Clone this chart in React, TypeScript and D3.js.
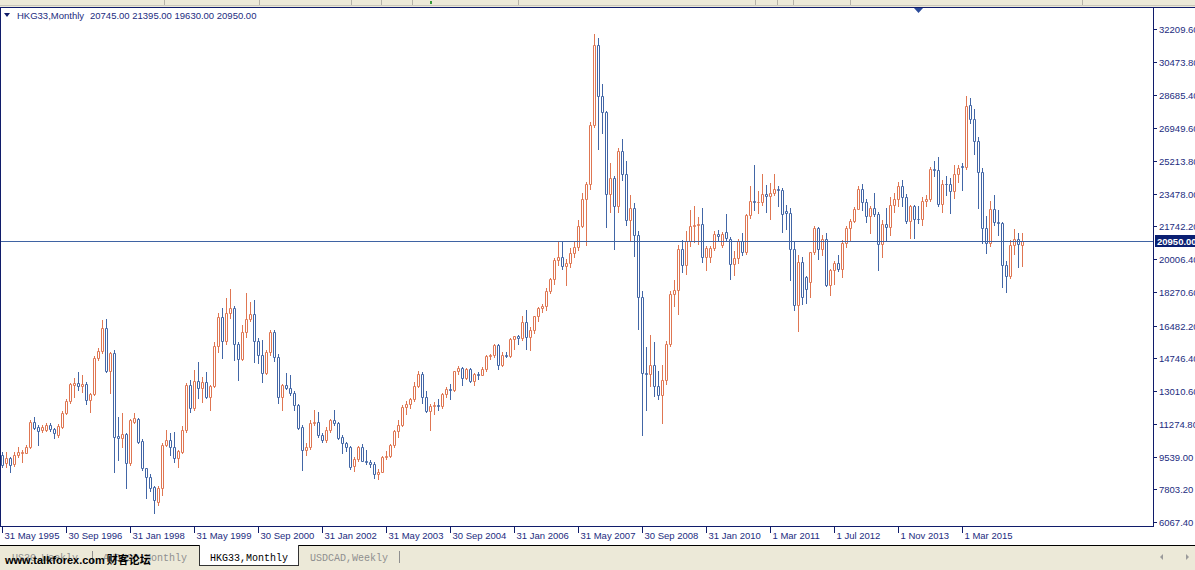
import React from 'react';
import * as d3 from 'd3';

// [open, high, low, close] per monthly bar, grouped by calendar year of the bar
const bars1995 = [
  [9620, 9800, 9000, 9090], [9180, 9800, 9000, 9440], [9440, 9530, 8730, 9090], [9140, 9800, 9050, 9620],
  [9620, 10060, 9530, 9800], [9740, 9880, 9230, 9800], [9740, 10150, 9700, 10060],
];
const bars1996 = [
  [10060, 11500, 10000, 11390], [11350, 11620, 11000, 11070], [11120, 11200, 10150, 10910], [10940, 11200, 10850, 11120],
  [10940, 11300, 10880, 11210], [11210, 11300, 10900, 10980], [10980, 11050, 10500, 10770], [10680, 11250, 10600, 11160],
  [11120, 11950, 11050, 11860], [11860, 12600, 11800, 12480], [12480, 13450, 12400, 13370], [13330, 13680, 12710, 13450],
];
const bars1997 = [
  [13420, 14040, 13070, 13300], [13300, 13860, 12980, 13370], [13370, 13510, 12300, 12540], [12540, 12900, 11920, 12840],
  [12840, 14850, 12800, 14750], [14750, 15300, 14650, 15150], [15150, 16780, 15050, 16340], [16340, 16810, 14000, 14090],
  [14090, 15100, 12890, 15010], [15010, 15190, 8730, 10590], [10630, 11650, 9350, 10500], [10500, 11830, 10060, 10730],
];
const bars1998 = [
  [10730, 10800, 7850, 9210], [9210, 11550, 9100, 11470], [11390, 11860, 11300, 11560], [11530, 11600, 10250, 10330],
  [10360, 10450, 8850, 8910], [8910, 8950, 7320, 8470], [8470, 8600, 7700, 7850], [7900, 7950, 6520, 7230],
  [7140, 7950, 6970, 7850], [7850, 10250, 7500, 10150], [10150, 10950, 10100, 10410], [10410, 10770, 9620, 10060],
];
const bars1999 = [
  [10060, 10850, 9260, 9440], [9440, 9900, 9000, 9850], [9800, 11160, 9750, 10940], [10940, 13420, 10850, 13330],
  [13330, 13600, 11920, 12090], [12090, 14130, 12000, 13560], [13560, 14570, 12620, 13150], [13150, 13770, 12450, 13510],
  [13510, 14040, 12620, 12710], [12710, 13350, 12000, 13280], [13280, 15630, 13200, 15400], [15380, 17130, 15100, 16950],
];
const bars2000 = [
  [16950, 17400, 14750, 15650], [15650, 17930, 15500, 17170], [17170, 18400, 16900, 17400], [17400, 17500, 14650, 15520],
  [15520, 15600, 13600, 14710], [14700, 16510, 14640, 16160], [16160, 18190, 15900, 16810], [16810, 17750, 16700, 17100],
  [17100, 17840, 14570, 15680], [15680, 15800, 14500, 14920], [14920, 15700, 13500, 13950], [13950, 15200, 13900, 15060],
];
const bars2001 = [
  [15060, 16250, 14900, 16130], [16130, 16250, 14600, 14800], [14800, 14950, 12360, 12720], [12720, 13400, 12000, 13330],
  [13330, 13950, 13100, 13150], [13150, 13860, 12800, 12890], [12890, 13000, 12000, 12270], [12270, 12300, 11000, 11030],
  [11120, 11200, 8820, 9880], [9880, 10240, 9600, 10060], [10060, 11470, 9950, 11300], [11300, 12000, 11200, 11390],
];
const bars2002 = [
  [11390, 11920, 10600, 10680], [10680, 10800, 10300, 10410], [10410, 11100, 10300, 10940], [10940, 11550, 10850, 11470],
  [11470, 12000, 11200, 11300], [11300, 11350, 10450, 10500], [10590, 10700, 9700, 10240], [10240, 10300, 9850, 10060],
  [10060, 10100, 8900, 9000], [9050, 9500, 8770, 9400], [9400, 10100, 9300, 10050], [10050, 10200, 9300, 9320],
];
const bars2003 = [
  [9320, 9900, 9150, 9260], [9260, 9380, 9000, 9120], [9120, 9250, 8400, 8630], [8630, 8900, 8330, 8720],
  [8720, 9550, 8700, 9490], [9490, 9850, 9400, 9580], [9580, 10200, 9500, 10130], [10130, 10950, 10050, 10910],
  [10910, 11500, 10600, 11230], [11230, 12250, 11150, 12190], [12190, 12500, 11800, 12320], [12320, 12650, 12100, 12580],
];
const bars2004 = [
  [12580, 13500, 12500, 13290], [13290, 14060, 13200, 13910], [13910, 14000, 12400, 12680], [12680, 13000, 11900, 11940],
  [11940, 12350, 10920, 12200], [12200, 12450, 11800, 12290], [12290, 12600, 12000, 12240], [12240, 12900, 12100, 12850],
  [12850, 13200, 12700, 13120], [13120, 13400, 12600, 13050], [13050, 14100, 13000, 14060], [14060, 14350, 13900, 14230],
];
const bars2005 = [
  [14230, 14300, 13350, 13720], [13720, 14260, 13650, 14200], [14200, 14250, 13500, 13520], [13520, 13950, 13350, 13910],
  [13910, 14000, 13650, 13870], [13870, 14300, 13850, 14200], [14200, 14900, 14100, 14880], [14880, 15000, 14700, 14900],
  [14900, 15500, 14800, 15430], [15430, 15500, 14200, 14390], [14390, 15100, 14330, 14940], [14940, 15100, 14800, 14880],
];
const bars2006 = [
  [14880, 15800, 14800, 15750], [15750, 15950, 15250, 15920], [15920, 16000, 15500, 15800], [15800, 17000, 15700, 16660],
  [16660, 17330, 15230, 15860], [15860, 16400, 15200, 16270], [16270, 17000, 16100, 16970], [16970, 17450, 16750, 17390],
  [17390, 17650, 17200, 17540], [17540, 18450, 17300, 18320], [18320, 19000, 18200, 18960], [18960, 20050, 18700, 19960],
];
const bars2007 = [
  [19960, 20900, 19700, 20110], [20110, 20900, 19500, 19650], [19650, 20000, 18660, 19800], [19800, 20600, 19600, 20320],
  [20320, 20900, 20100, 20640], [20640, 22100, 20500, 21770], [21770, 23500, 21700, 23180], [23180, 24100, 20780, 23980],
  [23980, 27300, 23700, 27140], [27140, 31960, 27000, 31350], [31350, 31750, 25860, 28640], [28640, 29300, 26700, 27810],
];
const bars2008 = [
  [27810, 27850, 21710, 23460], [23460, 25100, 22500, 24330], [24330, 24400, 20570, 22850], [22850, 25900, 22500, 25760],
  [25760, 26390, 24200, 24530], [24530, 25200, 21800, 22100], [22100, 23400, 21000, 22730], [22730, 23000, 20150, 21260],
  [21260, 21500, 16280, 18020], [18020, 18300, 10680, 13970], [13970, 15330, 12000, 13890], [13890, 16000, 13300, 14390],
];
const bars2009 = [
  [14390, 15600, 12750, 13280], [13280, 14100, 12600, 12810], [12810, 14400, 11340, 13580], [13580, 15650, 13400, 15520],
  [15520, 18300, 15400, 18170], [18170, 18900, 17500, 18380], [18380, 20750, 17100, 20570], [20570, 21000, 19300, 19720],
  [19720, 21500, 19200, 20960], [20960, 22600, 20700, 21750], [21750, 22800, 20900, 21820], [21820, 22250, 20800, 21870],
];
const bars2010 = [
  [21870, 22700, 19870, 20120], [20120, 20700, 19430, 20610], [20140, 20700, 19870, 20610], [20580, 21500, 20500, 21330],
  [21320, 21550, 20950, 21230], [20760, 21460, 20650, 21320], [21460, 22400, 21000, 21110], [21050, 21200, 18970, 19750],
  [19750, 20450, 19150, 20050], [20050, 21100, 19800, 20980], [20980, 21400, 20200, 20400], [20400, 22400, 20300, 22360],
  [22360, 23900, 22200, 23100], [23100, 24990, 22600, 23010], [23010, 23640, 22430, 23040],
];
const bars2011 = [
  [23040, 24500, 22900, 23450], [23450, 23940, 22520, 23340], [23340, 24030, 22130, 23530], [23530, 24520, 23400, 23720],
  [23720, 23880, 22800, 23680], [23680, 23800, 21460, 22400], [22540, 22900, 21600, 22440], [22440, 22700, 18900, 20530],
  [20530, 20900, 17300, 17590], [17590, 20200, 16170, 19860], [19860, 20140, 17620, 17990], [19040, 19100, 17660, 18430],
];
const bars2012 = [
  [18810, 20400, 18010, 20390], [20390, 21760, 20300, 21680], [21680, 21700, 20000, 20560], [20560, 21300, 20200, 21090],
  [21090, 21400, 18600, 18630], [18630, 19500, 18100, 19440], [19440, 19900, 18700, 19800], [19800, 20250, 19400, 19480],
  [19480, 21000, 19080, 20840], [20840, 21750, 20650, 21640], [21640, 22150, 21020, 22030], [22030, 22750, 21950, 22660],
];
const bars2013 = [
  [22660, 23900, 22650, 23730], [23730, 23990, 22600, 23020], [23020, 23200, 21990, 22300], [22300, 22800, 21370, 22740],
  [22740, 23500, 22300, 22390], [22390, 22500, 19430, 20800], [20800, 22100, 20140, 21880], [21880, 22700, 21000, 21730],
  [21730, 23300, 21300, 22860], [22860, 23500, 22500, 23210], [23210, 24100, 22800, 23880], [23880, 24200, 22800, 23310],
];
const bars2014 = [
  [23310, 23450, 21900, 22040], [22040, 22900, 21140, 22840], [22840, 22900, 21110, 22150], [22150, 22800, 21900, 22130],
  [22130, 23300, 21800, 23080], [23080, 23400, 22800, 23190], [23190, 24900, 23100, 24760], [24760, 25200, 24400, 24740],
  [24740, 25400, 22800, 22930], [22930, 24200, 22500, 24000], [24000, 24400, 23400, 23990], [23990, 24300, 22470, 23610],
];
const bars2015 = [
  [23610, 25000, 23230, 24510], [24510, 25000, 24100, 24820], [24950, 25100, 23670, 24870], [24870, 28650, 24800, 28150],
  [28200, 28530, 27200, 27420], [27420, 27950, 25580, 26250], [26250, 26500, 22700, 24640], [24640, 24850, 20840, 21670],
  [21670, 22300, 20310, 20850], [20850, 23100, 20700, 22640], [22640, 23400, 21800, 22000], [22000, 22600, 21300, 21910],
];
const bars2016 = [
  [21910, 22000, 18530, 19680], [19680, 19900, 18280, 19110], [19110, 21000, 19000, 20780], [20780, 21600, 20300, 21070],
  [21070, 21400, 19600, 20820], [20745, 21395, 19630, 20950],
];

const timeLabels = [
  '31 May 1995', '30 Sep 1996', '31 Jan 1998', '31 May 1999', '30 Sep 2000', '31 Jan 2002', '31 May 2003', '30 Sep 2004',
  '31 Jan 2006', '31 May 2007', '30 Sep 2008', '31 Jan 2010', '1 Mar 2011', '1 Jul 2012', '1 Nov 2013', '1 Mar 2015',
];
const labelEvery = 16;
const priceTicks = [
  32209.6, 30473.8, 28685.4, 26949.6, 25213.8, 23478.0, 21742.2, 20006.4, 18270.6, 16482.2, 14746.4, 13010.6,
  11274.8, 9539.0, 7803.2, 6067.4,
];
const symbol = 'HKG33,Monthly';
const bidPrice = 20950;
const tabs = [
  { name: 'US30,Weekly', active: false },
  { name: 'AUDUSD,Monthly', active: false },
  { name: 'HKG33,Monthly', active: true },
  { name: 'USDCAD,Weekly', active: false },
];

const W = 1195;
const H = 570;
const UP = '#DF7652';
const DOWN = '#4266A6';
const NAVY = '#101c6a';
const TXT = '#1c2c80';
const FONT = '"Liberation Sans", Arial, sans-serif';

export default function App() {
  const bars = [
    ...bars1995, ...bars1996, ...bars1997, ...bars1998, ...bars1999, ...bars2000, ...bars2001, ...bars2002,
    ...bars2003, ...bars2004, ...bars2005, ...bars2006, ...bars2007, ...bars2008, ...bars2009, ...bars2010,
    ...bars2011, ...bars2012, ...bars2013, ...bars2014, ...bars2015, ...bars2016,
  ];
  const n = bars.length;
  const plotRight = 1153;
  const plotTop = 7;
  const plotBottom = 526;
  const x = d3.scaleLinear().domain([0, n - 1]).range([2, 2 + 4 * (n - 1)]);
  const y = d3.scaleLinear().domain([6067.4, 32209.6]).range([522, 29]);
  const last = bars[n - 1];
  const fmt = d3.format('.2f');
  const bidY = Math.round(y(bidPrice)) + 0.5;

  return (
    <div style={{ position: 'absolute', left: 0, top: 0 }}>
      <svg width={W} height={H} style={{ display: 'block', background: '#fff' }}>
        {/* top toolbar remnant */}
        <rect x={0} y={0} width={W} height={plotTop} fill="#ECE9D8" />
        <line x1={0} x2={W} y1={5.5} y2={5.5} stroke="#C9C6BA" />
        {[164, 259, 351, 381, 412, 518, 755, 777, 793, 850, 1082].map((sx) => (
          <line key={sx} x1={sx + 0.5} x2={sx + 0.5} y1={0} y2={5} stroke="#B5B2A8" />
        ))}
        <rect x={430} y={1} width={2} height={3} fill="#3a9a3a" />

        {/* frame */}
        <line x1={0} x2={W} y1={plotTop + 0.5} y2={plotTop + 0.5} stroke={NAVY} />
        <line x1={0.5} x2={0.5} y1={plotTop} y2={plotBottom} stroke={NAVY} />
        <line x1={0} x2={plotRight} y1={plotBottom + 0.5} y2={plotBottom + 0.5} stroke={NAVY} />
        <line x1={plotRight + 0.5} x2={plotRight + 0.5} y1={plotTop} y2={plotBottom + 1} stroke={NAVY} />

        {/* header */}
        <path d="M4,13 L10,13 L7,17 Z" fill={NAVY} />
        <text x={17} y={19} fontFamily={FONT} fontSize={9.5} fill={TXT}>{symbol}</text>
        <text x={90} y={19} fontFamily={FONT} fontSize={9.5} fill={TXT}>
          {last.map((v) => fmt(v)).join(' ')}
        </text>
        {/* shift marker */}
        <path d="M914,8 L923,8 L918.5,13 Z" fill="#2a4a9a" />

        {/* candles */}
        {bars.map(([o, h, l, c], i) => {
          const cx = Math.round(x(i));
          const col = c >= o ? UP : DOWN;
          const top = Math.round(y(Math.max(o, c)));
          const bot = Math.round(y(Math.min(o, c)));
          const yh = Math.round(y(h));
          const yl = Math.round(y(l));
          return (
            <g key={i}>
              <line x1={cx + 0.5} x2={cx + 0.5} y1={yh} y2={yl + 1} stroke={col} />
              <path
                d={`M${cx - 0.5},${top + 0.5} h2 v${Math.max(bot - top, 0)} h-2 Z`}
                fill="#fff"
                stroke={col}
              />
            </g>
          );
        })}

        {/* bid line */}
        <line x1={1} x2={plotRight} y1={bidY} y2={bidY} stroke="#3f63a3" />

        {/* price axis */}
        {priceTicks.map((p) => {
          const py = Math.round(y(p)) + 0.5;
          return (
            <g key={p}>
              <line x1={plotRight} x2={plotRight + 4} y1={py} y2={py} stroke={NAVY} />
              <text x={1159} y={py + 3.5} fontFamily={FONT} fontSize={9.5} fill={TXT}>{fmt(p)}</text>
            </g>
          );
        })}
        <rect x={1155} y={bidY - 6.5} width={40} height={12} fill="#0a1f72" />
        <text x={1157} y={bidY + 3.5} fontFamily={FONT} fontSize={9.5} fontWeight="bold" fill="#fff">
          {fmt(bidPrice)}
        </text>

        {/* time axis */}
        {timeLabels.map((t, k) => {
          const tx = Math.round(x(k * labelEvery)) + 0.5;
          return (
            <g key={t}>
              <line x1={tx} x2={tx} y1={plotBottom + 1} y2={plotBottom + 7} stroke={NAVY} />
              <text x={tx + 2} y={539} fontFamily={FONT} fontSize={9.5} fill={TXT}>{t}</text>
            </g>
          );
        })}

        {/* tab bar */}
        <rect x={0} y={546} width={W} height={H - 546} fill="#ECE9D8" />
        <line x1={0} x2={W} y1={545.5} y2={545.5} stroke="#000" />
        <rect x={199.5} y={545.5} width={99} height={20} fill="#fff" stroke="#333" />
        <line x1={200} x2={298} y1={545.5} y2={545.5} stroke="#fff" />
        {(() => {
          const xs = [12, 103, 210, 310];
          return tabs.map((tb, k) => (
            <text key={tb.name} x={xs[k]} y={561} fontFamily='"Liberation Mono", monospace' fontSize={10}
              fill={tb.active ? '#000' : '#8f8f8f'}>{tb.name}</text>
          ));
        })()}
        <line x1={92.5} x2={92.5} y1={551} y2={563} stroke="#8f8f8f" />
        <line x1={399.5} x2={399.5} y1={551} y2={563} stroke="#8f8f8f" />
        <path d="M1163,554 L1163,560 L1160,557 Z" fill="#9a9a9a" />
        <path d="M1186,554 L1186,560 L1189,557 Z" fill="#9a9a9a" />
        <text x={5} y={564} fontFamily={FONT} fontSize={11} fontWeight="bold" fill="#000">
          www.talkforex.com
          <tspan fontFamily='"Noto Sans CJK SC", sans-serif' dx={2}>财客论坛</tspan>
        </text>
      </svg>
    </div>
  );
}
